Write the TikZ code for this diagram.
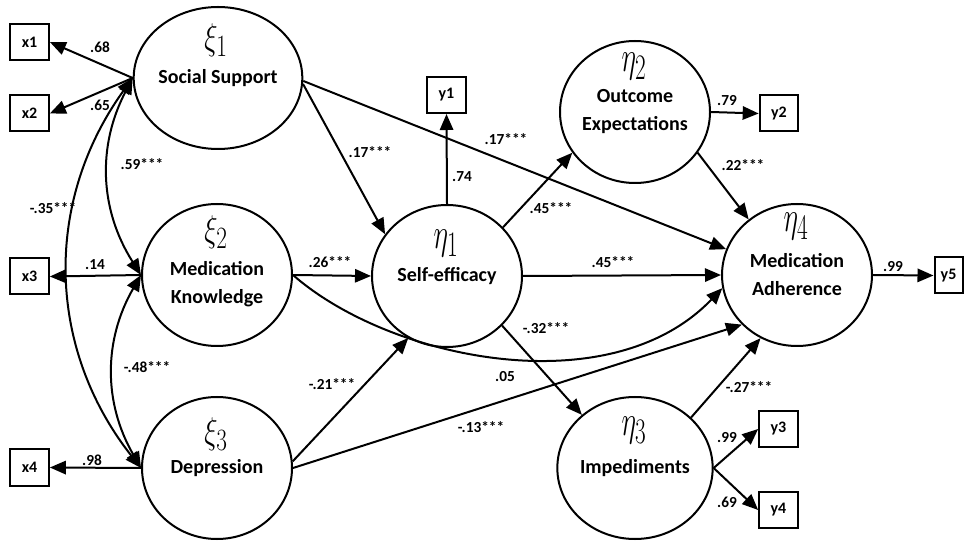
\documentclass[tikz,border=0pt]{standalone}
\usepackage{fontspec}
\setmainfont{Carlito}
\usepackage{graphicx}
\usetikzlibrary{shapes.geometric,arrows.meta}

\tikzset{every picture/.style={line width=1.5pt}}
\tikzset{
  latent/.style={draw,ellipse,minimum width=112.5pt,minimum height=106.5pt,inner sep=0pt,align=center,
    font=\fontsize{15}{21}\selectfont\bfseries},
  lname/.style={inner sep=0pt,align=center,font=\fontsize{15}{21}\selectfont\bfseries},
  obs/.style={draw,rectangle,minimum width=29pt,minimum height=27pt,inner sep=0pt,
    font=\fontsize{12}{14}\selectfont\bfseries},
  coef/.style={inner sep=0pt,font=\fontsize{11.5}{13}\selectfont\bfseries},
  greek/.style={inner sep=0pt},
  eff/.style={-{Triangle[length=12pt,width=10pt]}},
  cov/.style={{Triangle[length=12pt,width=10pt]}-{Triangle[length=12pt,width=10pt]}}
}
% stretched symbol over each latent variable
\newcommand{\latsym}[2][1.12]{\fontsize{24.88}{25}\selectfont\scalebox{0.84}[#1]{$#2$}}

\begin{document}
\begin{tikzpicture}[x=0.75pt,y=0.75pt,yscale=-1,xscale=1]
\useasboundingbox (0,0) rectangle (964,541);

% latent variables
\node[latent] (soc) at (218,78) {Social Support};
\node[latent] (know) at (217,275) {};
\node[lname] (knowt) at (217,284) {Medication\\Knowledge};
\node[latent] (dep) at (217,468) {Depression};
\node[latent] (self) at (447,276) {Self-efficacy};
\node[latent] (outc) at (635,112) {Outcome\\Expectations};
\node[latent] (adh) at (797,275) {Medication\\Adherence};
\node[latent] (imp) at (635,468) {Impediments};

\node[greek] (gsoc) at (216,40) {\latsym{\xi_1}};
\node[greek] (gknow) at (216,232) {\latsym{\xi_2}};
\node[greek] (gdep) at (216,434) {\latsym{\xi_3}};
\node[greek] (gself) at (446,243) {\latsym[1.3]{\eta_1}};
\node[greek] (goutc) at (634,66) {\latsym[1.3]{\eta_2}};
\node[greek] (gadh) at (796,226) {\latsym[1.3]{\eta_4}};
\node[greek] (gimp) at (634,430) {\latsym[1.3]{\eta_3}};

% indicators
\node[obs] (x1) at (29.5,42) {x1};
\node[obs] (x2) at (29.5,113.5) {x2};
\node[obs] (x3) at (29.5,276.5) {x3};
\node[obs] (x4) at (29.5,467.5) {x4};
\node[obs] (y1) at (446.5,95) {y1};
\node[obs] (y2) at (779,113.5) {y2};
\node[obs] (y3) at (778.5,429) {y3};
\node[obs] (y4) at (778.5,510) {y4};
\node[obs,minimum width=21pt] (y5) at (948.5,275.5) {y5};

% loadings
\draw[eff] (soc.west) -- (x1.east);
\draw[eff] (soc.west) -- (x2.east);
\draw[eff] (know.west) -- (x3.east);
\draw[eff] (dep.west) -- (x4.east);
\draw[eff] (self.north) -- (y1.south);
\draw[eff] (outc.east) -- (y2.west);
\draw[eff] (imp.east) -- (y3.west);
\draw[eff] (imp.east) -- (y4.west);
\draw[eff] (adh.east) -- (y5.west);

% covariances
\draw[cov] (soc.west) to[bend left=30] (know.west);
\draw[cov] (know.west) to[bend left=30] (dep.west);
\draw[cov] (soc.west) to[bend left=37] (dep.west);

% structural paths
\draw[eff] (soc.-4) -- (self.146);
\draw[eff] (soc.-2) -- (adh.160);
\draw[eff] (know.east) -- (self.west);
\draw[eff] (know.east) .. controls +(97,85) and +(-112,117) .. (adh.190);
\draw[eff] (dep.5) -- (self.238);
\draw[eff] (dep.east) -- (adh.222);
\draw[eff] (self.41) -- (outc.213);
\draw[eff] (self.east) -- (adh.west);
\draw[eff] (self.-42) -- (imp.135);
\draw[eff] (outc.-33) -- (adh.131);
\draw[eff] (imp.42) -- (adh.240);

% coefficients
\node[coef] (c1) at (100,47) {.68};
\node[coef] (c2) at (100,105) {.65};
\node[coef] (c3) at (95,265) {.14};
\node[coef] (c4) at (92,460) {.98};
\node[coef] (c5) at (142,164) {.59***};
\node[coef] (c6) at (53,208) {-.35***};
\node[coef] (c7) at (147,367) {-.48***};
\node[coef] (c8) at (370,152) {.17***};
\node[coef] (c9) at (506,139) {.17***};
\node[coef] (c10) at (462,177) {.74};
\node[coef] (c11) at (330,262) {.26***};
\node[coef] (c12) at (551,208) {.45***};
\node[coef] (c13) at (613,262) {.45***};
\node[coef] (c14) at (546,328) {-.32***};
\node[coef] (c15) at (505,377) {.05};
\node[coef] (c16) at (332,384) {-.21***};
\node[coef] (c17) at (481,427) {-.13***};
\node[coef] (c18) at (727,101) {.79};
\node[coef] (c19) at (743,165) {.22***};
\node[coef] (c20) at (893,267) {.99};
\node[coef] (c21) at (749,387) {-.27***};
\node[coef] (c22) at (727,438) {.99};
\node[coef] (c23) at (727,502) {.69};

\end{tikzpicture}
\end{document}
